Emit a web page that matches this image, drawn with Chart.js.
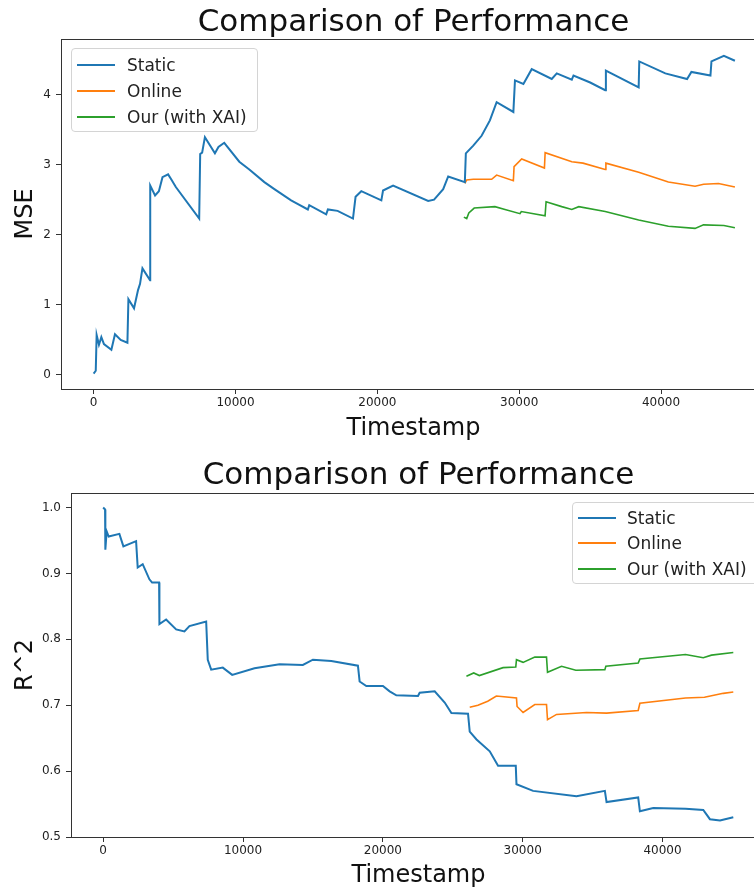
<!DOCTYPE html>
<html>
<head>
<meta charset="utf-8">
<script src="https://cdn.jsdelivr.net/npm/chart.js"></script>
<style>
  html, body { margin: 0; padding: 0; background: #fff; width: 754px; height: 893px; overflow: hidden; }
  canvas { position: absolute; left: 0; }
  .legend { position: absolute; box-sizing: border-box; border: 1px solid #d4d4d4; border-radius: 4px;
            background: rgba(255,255,255,0.85); font-family: 'DejaVu Sans', sans-serif; font-size: 17px; color: #222; }
  .legend .row { position: absolute; left: 0; right: 0; height: 24px; }
  .legend .swatch { position: absolute; width: 38px; }
  .legend .txt { position: absolute; line-height: 24px; white-space: nowrap; }
</style>
</head>
<body>
<canvas id="mseChart" width="766" height="446" style="top:0"></canvas>
<canvas id="r2Chart" width="766" height="447" style="top:446px"></canvas>

<script>
// ---- data ----
const seriesLabels = ['Static', 'Online', 'Our (with XAI)'];
const seriesColors = ['#1f77b4', '#ff7f0e', '#2ca02c'];

const xTicks = [0, 10000, 20000, 30000, 40000];
const mseTicks = [0, 1, 2, 3, 4];
const r2Ticks = [0.5, 0.6, 0.7, 0.8, 0.9, 1.0];

const mseStaticT = [0, 150, 212, 375, 544, 728, 1251, 1505, 1908, 2382, 2452, 2848, 3130, 3272, 3442, 3979, 3990, 4332, 4600, 4855,
  5251, 5500, 5795, 7442, 7512, 7650, 7845, 8551, 8800, 9208, 10269, 10975, 12035, 12742, 13922, 14276, 15102, 15200, 16396, 16516,
  17200, 18283, 18466, 18869, 20283, 20403, 21110, 23583, 24000, 24643, 24996, 26170, 26240, 26763, 27350, 27936, 28410, 29590, 29703, 30297,
  30883, 32297, 32650, 33710, 33830, 35004, 36064, 36113, 38424, 38466, 40304, 41837, 42141, 43484, 43555, 44431, 45208];
const mseStaticV = [0.02, 0.06, 0.57, 0.43, 0.54, 0.44, 0.36, 0.58, 0.50, 0.46, 1.08, 0.95, 1.21, 1.30, 1.52, 1.35, 2.70, 2.56, 2.62, 2.82,
  2.86, 2.78, 2.68, 2.23, 3.15, 3.17, 3.39, 3.16, 3.25, 3.31, 3.04, 2.93, 2.75, 2.65, 2.49, 2.45, 2.36, 2.42, 2.29, 2.36,
  2.34, 2.23, 2.54, 2.62, 2.49, 2.63, 2.70, 2.48, 2.50, 2.65, 2.83, 2.75, 3.16, 3.27, 3.41, 3.63, 3.89, 3.75, 4.20, 4.15,
  4.36, 4.22, 4.30, 4.21, 4.27, 4.17, 4.06, 4.34, 4.10, 4.47, 4.30, 4.22, 4.32, 4.27, 4.47, 4.55, 4.48];

const mseOnlineT = [26170, 26300, 26763, 28060, 28410, 29590, 29640, 30177, 31780, 31830, 33710, 34500, 36064, 36113, 38424, 40516, 42400, 43000, 44050, 45208];
const mseOnlineV = [2.73, 2.78, 2.79, 2.79, 2.85, 2.77, 2.97, 3.08, 2.95, 3.17, 3.04, 3.02, 2.93, 3.02, 2.89, 2.75, 2.69, 2.72, 2.73, 2.68];

const mseOurT = [26100, 26300, 26450, 26830, 28290, 29000, 30057, 30150, 31826, 31897, 33000, 33710, 34200, 36064, 38424, 40516, 42400, 42996, 44431, 45208];
const mseOurV = [2.25, 2.23, 2.31, 2.38, 2.40, 2.36, 2.30, 2.33, 2.27, 2.47, 2.40, 2.36, 2.40, 2.33, 2.21, 2.12, 2.09, 2.14, 2.13, 2.10];

const r2StaticT = [0, 136, 157, 250, 394, 1160, 1446, 2355, 2470, 2827, 3307, 3500, 4000, 4023, 4503, 5218, 5812, 6170, 7366, 7480,
  7724, 8554, 9227, 10823, 12613, 14281, 14997, 16314, 18218, 18340, 18819, 20007, 20487, 20966, 22513, 22634, 23708, 24424, 24903, 26092,
  26213, 26700, 27645, 28239, 29506, 29556, 30745, 33851, 35877, 35998, 38260, 38382, 39334, 41646, 42914, 43390, 44109, 45061];
const r2StaticV = [1.0, 0.997, 0.936, 0.964, 0.956, 0.96, 0.941, 0.949, 0.909, 0.914, 0.891, 0.886, 0.886, 0.823, 0.83, 0.815, 0.812, 0.82, 0.827, 0.769,
  0.754, 0.757, 0.746, 0.756, 0.762, 0.761, 0.769, 0.767, 0.760, 0.736, 0.729, 0.729, 0.721, 0.715, 0.714, 0.719, 0.721, 0.704, 0.688, 0.687,
  0.66, 0.648, 0.630, 0.608, 0.608, 0.580, 0.570, 0.562, 0.570, 0.553, 0.560, 0.539, 0.544, 0.543, 0.541, 0.527, 0.525, 0.530];

const r2OnlineT = [26213, 26800, 27500, 28120, 29556, 29600, 30029, 30866, 31704, 31776, 32420, 34567, 35998, 38260, 38382, 41646, 43000, 44345, 45061];
const r2OnlineV = [0.697, 0.700, 0.706, 0.714, 0.711, 0.698, 0.689, 0.701, 0.701, 0.678, 0.686, 0.689, 0.688, 0.692, 0.703, 0.711, 0.712, 0.718, 0.720];

const r2OurT = [25977, 26500, 26900, 28597, 29506, 29556, 30029, 30866, 31704, 31776, 32778, 33801, 35877, 35948, 38260, 38382, 41646, 42914, 43500, 45061];
const r2OurV = [0.744, 0.749, 0.745, 0.757, 0.758, 0.769, 0.765, 0.773, 0.773, 0.750, 0.759, 0.753, 0.754, 0.759, 0.764, 0.770, 0.777, 0.772, 0.776, 0.780];

// ---- shared styling ----
const FONT = "'DejaVu Sans', sans-serif";
const AXIS = '#333';
const TEXT = '#111';
const lineWidths = [2, 1.6, 1.6];

function toPoints(t, v) {
  return t.map((x, i) => ({ x: x, y: v[i] }));
}

function buildChart(canvasId, cfg) {
  const datasets = cfg.series.map((s, i) => ({
    label: seriesLabels[i],
    data: toPoints(s[0], s[1]),
    borderColor: seriesColors[i],
    backgroundColor: seriesColors[i],
    borderWidth: lineWidths[i],
    pointRadius: 0,
    tension: 0,
    fill: false
  }));

  return new Chart(document.getElementById(canvasId), {
    type: 'line',
    data: { datasets: datasets },
    options: {
      responsive: false,
      animation: false,
      layout: { padding: 0 },
      plugins: { legend: { display: false }, title: { display: false }, tooltip: { enabled: false } },
      scales: {
        x: {
          type: 'linear', position: 'bottom', min: -2300, max: 47400,
          afterBuildTicks: s => { s.ticks = xTicks.map(v => ({ value: v })); },
          afterFit: s => { s.height = cfg.xHeight; },
          ticks: { font: { family: FONT, size: 12 }, color: '#222', padding: 2, maxRotation: 0, callback: v => String(v) },
          grid: { drawOnChartArea: false, tickLength: 5, color: AXIS, tickColor: AXIS },
          border: { color: AXIS, width: 1 },
          title: { display: true, text: 'Timestamp', color: TEXT, font: { family: FONT, size: 24, lineHeight: 1.2 }, padding: { top: 0, bottom: 3 } }
        },
        top: {
          type: 'linear', position: 'top', min: -2300, max: 47400,
          afterFit: s => { s.height = cfg.topHeight; },
          ticks: { display: false },
          grid: { drawOnChartArea: false, drawTicks: false },
          border: { color: AXIS, width: 1 },
          title: { display: true, text: 'Comparison of Performance', color: TEXT, font: { family: FONT, size: 31, lineHeight: 1 }, padding: { top: cfg.titlePad, bottom: 0 } }
        },
        y: {
          type: 'linear', position: 'left', min: cfg.yMin, max: cfg.yMax,
          afterBuildTicks: s => { s.ticks = cfg.yTicks.map(v => ({ value: v })); },
          afterFit: s => { s.width = cfg.yWidth; },
          ticks: { font: { family: FONT, size: 12 }, color: '#222', padding: 5, callback: cfg.yFormat },
          grid: { drawOnChartArea: false, tickLength: 5, color: AXIS, tickColor: AXIS },
          border: { color: AXIS, width: 1 },
          title: { display: true, text: cfg.yTitle, color: TEXT, font: { family: FONT, size: 24, lineHeight: 1.2 }, padding: { top: 11, bottom: 0 } }
        }
      }
    }
  });
}

// HTML legend built from the chart's datasets
function addLegend(chart, box) {
  const el = document.createElement('div');
  el.className = 'legend';
  el.style.left = box.left + 'px';
  el.style.top = box.top + 'px';
  el.style.width = box.width + 'px';
  el.style.height = box.height + 'px';
  chart.data.datasets.forEach((ds, i) => {
    const row = document.createElement('div');
    row.className = 'row';
    row.style.top = Math.round(box.firstRow + i * box.rowGap - 12) + 'px';
    const sw = document.createElement('div');
    sw.className = 'swatch';
    sw.style.left = box.lineLeft + 'px';
    sw.style.height = '2px';
    sw.style.top = '11px';
    sw.style.background = ds.borderColor;
    const tx = document.createElement('div');
    tx.className = 'txt';
    tx.style.left = box.textLeft + 'px';
    tx.textContent = ds.label;
    row.appendChild(sw);
    row.appendChild(tx);
    el.appendChild(row);
  });
  document.body.appendChild(el);
}

const mseChart = buildChart('mseChart', {
  series: [[mseStaticT, mseStaticV], [mseOnlineT, mseOnlineV], [mseOurT, mseOurV]],
  yMin: -0.2, yMax: 4.79, yTicks: mseTicks, yFormat: v => String(v), yTitle: 'MSE',
  xHeight: 57, topHeight: 39, yWidth: 61, titlePad: 7
});

const r2Chart = buildChart('r2Chart', {
  series: [[r2StaticT, r2StaticV], [r2OnlineT, r2OnlineV], [r2OurT, r2OurV]],
  yMin: 0.5, yMax: 1.022, yTicks: r2Ticks, yFormat: v => Number(v).toFixed(1), yTitle: 'R^2',
  xHeight: 56, topHeight: 47, yWidth: 71, titlePad: 14
});

addLegend(mseChart, { left: 71, top: 48, width: 187, height: 84, firstRow: 15.5, rowGap: 26, lineLeft: 5, textLeft: 55 });
addLegend(r2Chart, { left: 572, top: 502, width: 190, height: 82, firstRow: 15, rowGap: 25.3, lineLeft: 5, textLeft: 54 });
</script>
</body>
</html>
